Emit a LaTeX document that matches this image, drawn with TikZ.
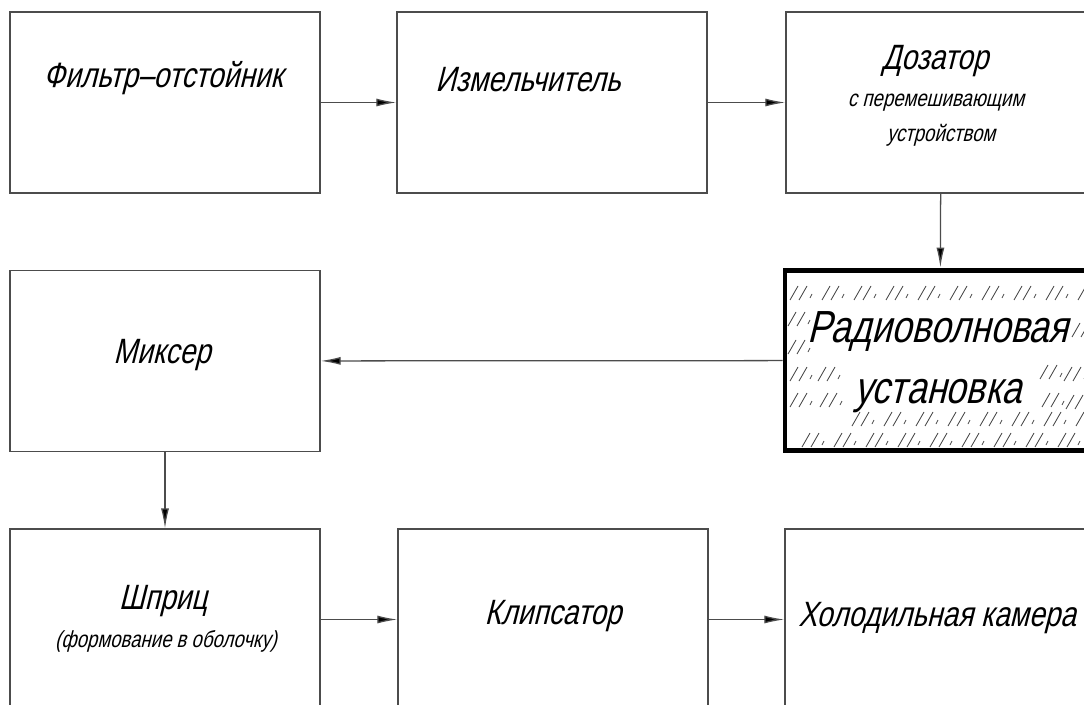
\documentclass[tikz,border=0pt]{standalone}
\usepackage{fontspec}
\newfontfamily\gostfont[FakeSlant=0.25,FakeStretch=0.8]{Liberation Sans}
\usetikzlibrary{arrows.meta}

\tikzset{
	block/.style={draw=black!70, line width=0.9pt, minimum width=7.75cm, minimum height=4.52cm, inner sep=0pt},
	hotblock/.style={block, draw=black, line width=3.5pt},
	lbl/.style={font=\gostfont\fontsize{25}{30}\selectfont, inner sep=0pt, align=center},
	small/.style={font=\gostfont\fontsize{16.5}{20}\selectfont, inner sep=0pt},
	big/.style={font=\gostfont\fontsize{32}{43}\selectfont, inner sep=0pt, align=center},
	flow/.style={draw=black!70, line width=0.9pt, -{Latex[length=5mm,width=2mm,fill=black]}},
	glass/.style={line width=0.6pt, black!70}
}

\begin{document}
\begin{tikzpicture}[x=0.025cm, y=-0.025cm]
		\path[use as bounding box, fill=white] (0,0) rectangle (1084,704);
		\clip (0,0) rectangle (1084,704);
		% boxes
		\node[block] (filter) at (165,102.5) {};
		\node[block] (grinder) at (552,102.5) {};
		\node[block] (doser) at (941,102.5) {};
		\node[block] (mixer) at (165,361) {};
		\node[hotblock] (radio) at (940,360.5) {};
		\node[block] (syringe) at (165,619.5) {};
		\node[block] (clipper) at (553,619.5) {};
		\node[block] (cooler) at (940,619.5) {};
		% glass hatching
		\begin{scope}
		\clip (786,272) rectangle (1096,449);
		\foreach \x in {790,822,...,1090} {
			\draw[glass] (\x,300) -- ++(8,-14) ++(1,14) -- ++(8,-14) ++(3,12) -- ++(2,-4);
		}
		\foreach \x in {852,884,...,1090} {
			\draw[glass] (\x,426) -- ++(8,-14) ++(1,14) -- ++(8,-14) ++(3,12) -- ++(2,-4);
		}
		\foreach \x in {790,822,...,1090} {
			\draw[glass] (\x+12,447) -- ++(8,-14) ++(1,14) -- ++(8,-14) ++(3,12) -- ++(2,-4);
		}
		\foreach \x/\y in {788/326, 788/354, 790/381, 790/407, 818/381, 820/407, 1040/379, 1064/381, 1042/407, 1066/409, 1072/337} {
			\draw[glass] (\x,\y) -- ++(8,-14) ++(1,14) -- ++(8,-14) ++(3,12) -- ++(2,-4);
		}
		\end{scope}
		% labels
		\node[lbl] (filtert) at (163,78) {Фильтр–отстойник};
		\node[lbl] (grindert) at (528,80) {Измельчитель};
		\node[lbl] (dosert) at (935,61) {Дозатор};
		\node[small] (dosert2) at (936,103) {с перемешивающим};
		\node[small] (dosert3) at (941,135) {устройством};
		\node[lbl] (mixert) at (162,355) {Миксер};
		\node[big] (radiot) at (938,362) {Радиоволновая\\установка};
		\node[lbl] (syringet) at (163,601) {Шприц};
		\node[small] (syringet2) at (166,641) {(формование в оболочку)};
		\node[lbl] (clippert) at (553,616) {Клипсатор};
		\node[lbl] (coolert) at (937,618) {Холодильная камера};
		% flow
		\draw[flow] (filter) -- (grinder);
		\draw[flow] (grinder) -- (doser);
		\draw[flow] (doser) -- (radio);
		\draw[flow] (radio) -- (mixer);
		\draw[flow] (mixer) -- (syringe);
		\draw[flow] (syringe) -- (clipper);
		\draw[flow] (clipper) -- (cooler);
\end{tikzpicture}
\end{document}
